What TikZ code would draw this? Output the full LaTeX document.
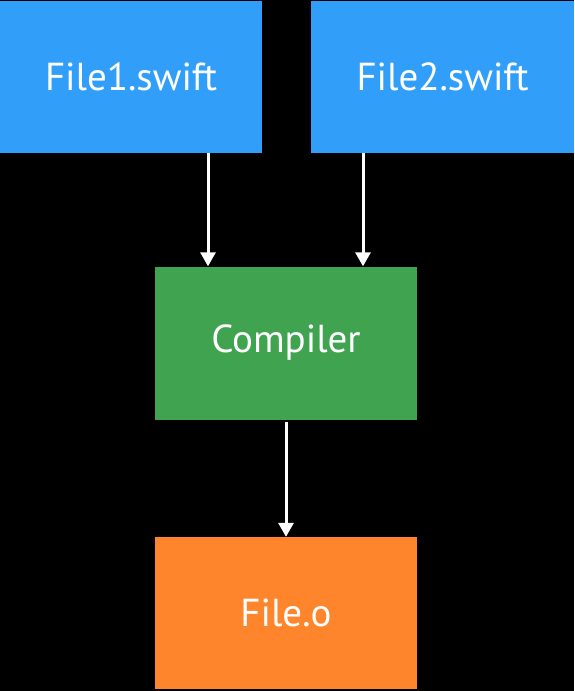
\documentclass[tikz,border=0pt]{standalone}
\usepackage{fontspec}
\setmainfont{PT Sans}
\usetikzlibrary{arrows.meta}
\definecolor{fblue}{RGB}{49,158,250}
\definecolor{fgreen}{RGB}{64,163,80}
\definecolor{forange}{RGB}{254,133,44}
\tikzset{
  filebox/.style={fill=#1, draw=none, inner sep=0pt, text=white,
    font=\fontsize{39}{44}\selectfont},
  flow/.style={draw=white, line width=3pt, -{Triangle[width=15pt,length=14pt]}, shorten >=0pt}
}
\begin{document}
\begin{tikzpicture}[x=1pt,y=-1pt]
\fill[black] (0,0) rectangle (574,691);
\useasboundingbox (0,0) rectangle (574,691);
\node[filebox=fblue, minimum width=262pt, minimum height=152pt] (f1) at (131,77) {File1.swift};
\node[filebox=fblue, minimum width=263pt, minimum height=152pt] (f2) at (442.5,77) {File2.swift};
\node[filebox=fgreen, minimum width=262pt, minimum height=153pt] (comp) at (286,343) {Compiler};
\node[filebox=forange, minimum width=262pt, minimum height=152pt] (obj) at (286,613) {File.o};
\draw[flow] (f1.south -| 208,0) -- (comp.north -| 208,0);
\draw[flow] (f2.south -| 363,0) -- (comp.north -| 363,0);
\draw[flow] ([yshift=-2pt]comp.south) -- (obj.north);
\end{tikzpicture}
\end{document}
